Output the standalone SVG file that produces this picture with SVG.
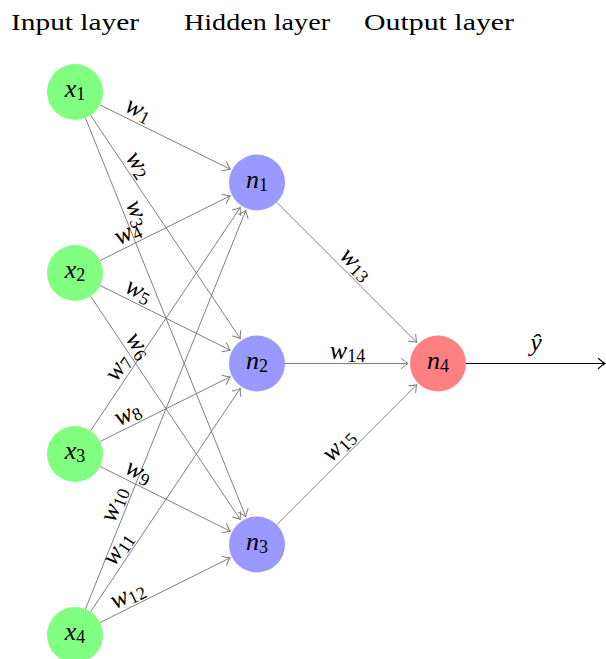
<svg xmlns="http://www.w3.org/2000/svg" width="606" height="659" viewBox="0 0 606 659">
<style>
text{font-family:"Liberation Serif","Times New Roman",serif;fill:#000}
.title{font-size:24px}
.m{font-size:26px;text-anchor:middle}
.i{font-style:italic}
.s{font-size:18px;font-style:normal}
.e{stroke:#808080;stroke-width:1;fill:none;marker-end:url(#ag)}
.in{fill:#80ff80}
.hid{fill:#9999ff}
.out{fill:#ff8080}
</style>
<defs>
<marker id="ag" markerUnits="userSpaceOnUse" orient="auto" refX="0" refY="0" markerWidth="12" markerHeight="12" viewBox="-8 -6 10 12" overflow="visible">
<path d="M-6.5,-5 Q-2,-1 0,0 Q-2,1 -6.5,5" fill="none" stroke="#808080" stroke-width="1" stroke-linecap="round"/>
</marker>
<marker id="ab" markerUnits="userSpaceOnUse" orient="auto" refX="0" refY="0" markerWidth="12" markerHeight="12" viewBox="-8 -6 10 12" overflow="visible">
<path d="M-6.5,-5 Q-2,-1 0,0 Q-2,1 -6.5,5" fill="none" stroke="#000" stroke-width="1.2" stroke-linecap="round"/>
</marker>
</defs>
<rect width="606" height="659" fill="#fff"/>
<g id="titles">
<text class="title" x="75" y="30" text-anchor="middle" textLength="128" lengthAdjust="spacingAndGlyphs">Input layer</text>
<text class="title" x="257" y="30" text-anchor="middle" textLength="146" lengthAdjust="spacingAndGlyphs">Hidden layer</text>
<text class="title" x="439" y="30" text-anchor="middle" textLength="150" lengthAdjust="spacingAndGlyphs">Output layer</text>
</g>
<g id="connectors">
<line class="e" x1="100.07" y1="104.97" x2="230.14" y2="169.14"/>
<line class="e" x1="90.59" y1="115.26" x2="240.30" y2="338.58"/>
<line class="e" x1="85.45" y1="117.98" x2="245.80" y2="516.67"/>
<line class="e" x1="100.07" y1="260.53" x2="230.14" y2="195.86"/>
<line class="e" x1="100.07" y1="285.47" x2="230.14" y2="350.14"/>
<line class="e" x1="90.59" y1="296.26" x2="240.30" y2="519.58"/>
<line class="e" x1="90.59" y1="430.74" x2="240.30" y2="207.42"/>
<line class="e" x1="100.07" y1="441.53" x2="230.14" y2="376.86"/>
<line class="e" x1="100.07" y1="466.47" x2="230.14" y2="531.14"/>
<line class="e" x1="85.45" y1="609.02" x2="245.80" y2="210.33"/>
<line class="e" x1="90.59" y1="611.74" x2="240.30" y2="388.42"/>
<line class="e" x1="100.07" y1="622.53" x2="230.14" y2="557.86"/>
<line class="e" x1="276.80" y1="202.30" x2="416.79" y2="342.29"/>
<line class="e" x1="285" y1="363.5" x2="408" y2="363.5"/>
<line class="e" x1="276.80" y1="524.70" x2="416.79" y2="384.71"/>
<line x1="466" y1="363.5" x2="605" y2="363.5" stroke="#000" stroke-width="1.2" marker-end="url(#ab)"/>
<g id="edge-labels">
<text class="m" transform="translate(133.03,120.86) rotate(26.44)" y="-5"><tspan class="i">w</tspan><tspan class="s" dy="3">1</tspan></text>
<text class="m" transform="translate(128.30,171.50) rotate(56.17)" y="-5"><tspan class="i">w</tspan><tspan class="s" dy="3">2</tspan></text>
<text class="m" transform="translate(125.73,218.11) rotate(68.09)" y="-5"><tspan class="i">w</tspan><tspan class="s" dy="3">3</tspan></text>
<text class="m" transform="translate(133.03,244.14) rotate(-26.44)" y="-5"><tspan class="i">w</tspan><tspan class="s" dy="3">4</tspan></text>
<text class="m" transform="translate(133.03,301.86) rotate(26.44)" y="-5"><tspan class="i">w</tspan><tspan class="s" dy="3">5</tspan></text>
<text class="m" transform="translate(128.30,352.50) rotate(56.17)" y="-5"><tspan class="i">w</tspan><tspan class="s" dy="3">6</tspan></text>
<text class="m" transform="translate(128.30,374.50) rotate(-56.17)" y="-5"><tspan class="i">w</tspan><tspan class="s" dy="3">7</tspan></text>
<text class="m" transform="translate(133.03,425.14) rotate(-26.44)" y="-5"><tspan class="i">w</tspan><tspan class="s" dy="3">8</tspan></text>
<text class="m" transform="translate(133.03,482.86) rotate(26.44)" y="-5"><tspan class="i">w</tspan><tspan class="s" dy="3">9</tspan></text>
<text class="m" transform="translate(125.73,508.89) rotate(-68.09)" y="-5"><tspan class="i">w</tspan><tspan class="s" dy="3">10</tspan></text>
<text class="m" transform="translate(128.30,555.50) rotate(-56.17)" y="-5"><tspan class="i">w</tspan><tspan class="s" dy="3">11</tspan></text>
<text class="m" transform="translate(133.03,606.14) rotate(-26.44)" y="-5"><tspan class="i">w</tspan><tspan class="s" dy="3">12</tspan></text>
<text class="m" transform="translate(347.5,273) rotate(45)" y="-5"><tspan class="i">w</tspan><tspan class="s" dy="3">13</tspan></text>
<text class="m" transform="translate(347.5,363.5)" y="-5"><tspan class="i">w</tspan><tspan class="s" dy="3">14</tspan></text>
<text class="m" transform="translate(347.5,454) rotate(-45)" y="-5"><tspan class="i">w</tspan><tspan class="s" dy="3">15</tspan></text>
<text class="m i" x="536" y="351">ŷ</text>
</g>
</g>
<g id="x1"><circle class="in" cx="75" cy="92" r="28"/><text class="m" x="75" y="97"><tspan class="i">x</tspan><tspan class="s" dy="3">1</tspan></text></g>
<g id="x2"><circle class="in" cx="75" cy="273" r="28"/><text class="m" x="75" y="278"><tspan class="i">x</tspan><tspan class="s" dy="3">2</tspan></text></g>
<g id="x3"><circle class="in" cx="75" cy="454" r="28"/><text class="m" x="75" y="459"><tspan class="i">x</tspan><tspan class="s" dy="3">3</tspan></text></g>
<g id="x4"><circle class="in" cx="75" cy="635" r="28"/><text class="m" x="75" y="640"><tspan class="i">x</tspan><tspan class="s" dy="3">4</tspan></text></g>
<g id="n1"><circle class="hid" cx="257" cy="182.5" r="28"/><text class="m" x="257" y="187.5"><tspan class="i">n</tspan><tspan class="s" dy="3">1</tspan></text></g>
<g id="n2"><circle class="hid" cx="257" cy="363.5" r="28"/><text class="m" x="257" y="368.5"><tspan class="i">n</tspan><tspan class="s" dy="3">2</tspan></text></g>
<g id="n3"><circle class="hid" cx="257" cy="544.5" r="28"/><text class="m" x="257" y="549.5"><tspan class="i">n</tspan><tspan class="s" dy="3">3</tspan></text></g>
<g id="n4"><circle class="out" cx="438" cy="363.5" r="28"/><text class="m" x="438" y="368.5"><tspan class="i">n</tspan><tspan class="s" dy="3">4</tspan></text></g>
</svg>
